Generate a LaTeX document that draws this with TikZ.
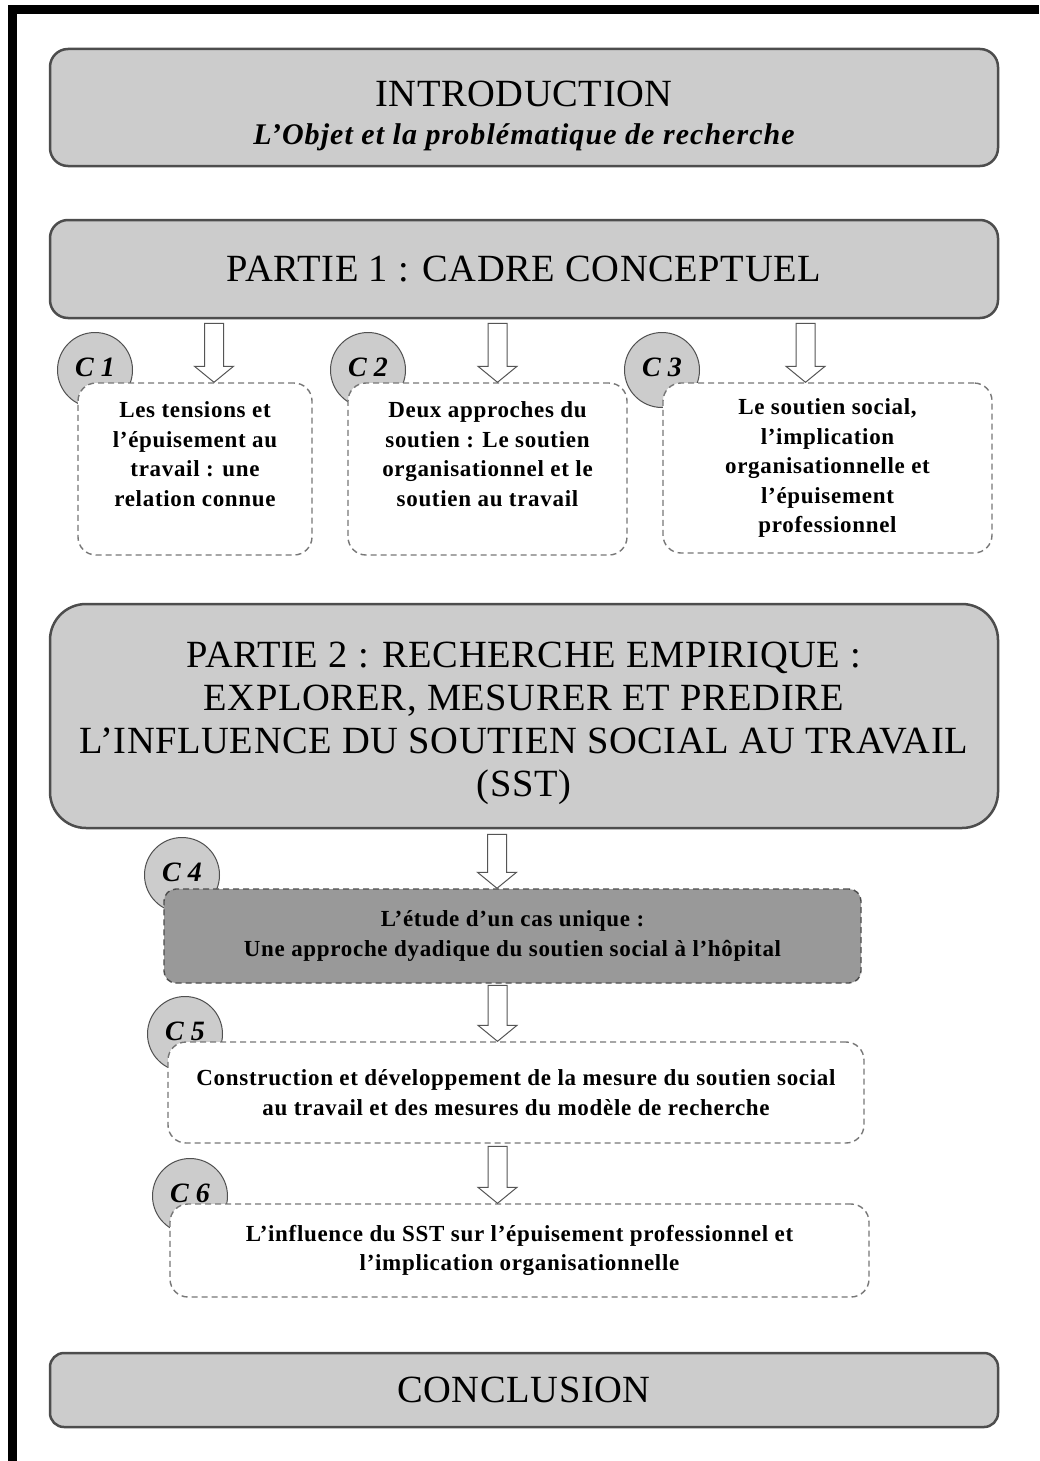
\documentclass[tikz,border=0pt]{standalone}
\usepackage{fontspec}
\setmainfont{Liberation Serif}
\newfontfamily\headfont[LetterSpace=1.5]{Liberation Serif}
\newfontfamily\subfont[LetterSpace=3.5]{Liberation Serif}
\newfontfamily\boxfont[LetterSpace=3]{Liberation Serif}
\usetikzlibrary{calc}
\definecolor{boxfill}{HTML}{CCCCCC}
\definecolor{boxline}{HTML}{4D4D4D}
\definecolor{dashline}{HTML}{777777}
\definecolor{darkfill}{HTML}{999999}
\definecolor{circline}{HTML}{505050}
\definecolor{arrline}{HTML}{555555}
\newcommand{\hollowarrow}[2]{%
  \draw[blockarrow] ($(#1)+(-9.5,-#2)$) -- ($(#1)+(9.5,-#2)$) -- ($(#1)+(9.5,-16)$) -- ($(#1)+(19.5,-16)$) -- (#1) -- ($(#1)+(-19.5,-16)$) -- ($(#1)+(-9.5,-16)$) -- cycle;}
\begin{document}
\begin{tikzpicture}[x=1pt,y=-1pt,
  mainbox/.style={draw=boxline, line width=2.5pt, fill=boxfill, rounded corners=#1, inner sep=0pt, align=center, minimum width=948pt, font=\headfont\fontsize{38.5}{43}\selectfont},
  chapbox/.style={draw=dashline, line width=1.4pt, dash pattern=on 6pt off 4pt, fill=white, rounded corners=18pt, inner sep=0pt, align=center, font=\boxfont\bfseries\fontsize{23}{29.5}\selectfont},
  chapcircle/.style={circle, draw=circline, line width=1pt, fill=boxfill, minimum size=75pt, inner sep=0pt, text height=20pt, text depth=8pt, font=\bfseries\itshape\fontsize{28}{28}\selectfont},
  blockarrow/.style={draw=arrline, line width=1pt, fill=white, line join=miter}
]
\useasboundingbox (0,0) rectangle (1039,1461);
\fill[white] (0,0) rectangle (1039,1461);
\fill[black] (8,5) rectangle (1039,14);
\fill[black] (8,5) rectangle (17,1461);

% main boxes
\node[mainbox=18pt, minimum height=117pt, font=\headfont\fontsize{38.5}{38}\selectfont] (intro) at (524,107.5)
  {\rule{0pt}{41.5pt}INTRODUCTION\\{\subfont\fontsize{30}{38}\selectfont\bfseries\itshape L’Objet et la problématique de recherche}};
\node[mainbox=18pt, minimum height=98pt] (p1) at (524,269) {PARTIE 1 : CADRE CONCEPTUEL};
\node[mainbox=36pt, minimum height=224pt] (p2) at (524,716)
  {\rule{0pt}{40pt}PARTIE 2 : RECHERCHE EMPIRIQUE :\\EXPLORER, MESURER ET PREDIRE\\L’INFLUENCE DU SOUTIEN SOCIAL AU TRAVAIL\\(SST)};
\node[mainbox=14pt, minimum height=74pt] (concl) at (524,1390) {CONCLUSION};

% chapter circles
\node[chapcircle] (k1) at (95,370) {C 1};
\node[chapcircle] (k2) at (368,370) {C 2};
\node[chapcircle] (k3) at (662,370) {C 3};
\node[chapcircle] (k4) at (182,875) {C 4};
\node[chapcircle] (k5) at (185,1034) {C 5};
\node[chapcircle] (k6) at (190,1196) {C 6};

% chapter boxes
\node[chapbox, minimum width=234pt, minimum height=172pt] (c1) at (195,469)
  {Les tensions et\\l’épuisement au\\travail : une\\relation connue\\\mbox{}};
\node[chapbox, minimum width=279pt, minimum height=172pt] (c2) at (487.5,469)
  {Deux approches du\\soutien : Le soutien\\organisationnel et le\\soutien au travail\\\mbox{}};
\node[chapbox, minimum width=329pt, minimum height=170pt] (c3) at (827.5,468)
  {Le soutien social,\\l’implication\\organisationnelle et\\l’épuisement\\professionnel};
\node[chapbox, fill=darkfill, draw=boxline, rounded corners=12pt, minimum width=697pt, minimum height=94pt] (c4) at (512.5,936)
  {L’étude d’un cas unique :\\Une approche dyadique du soutien social à l’hôpital};
\node[chapbox, minimum width=696pt, minimum height=101pt] (c5) at (516,1092.5)
  {Construction et développement de la mesure du soutien social\\au travail et des mesures du modèle de recherche};
\node[chapbox, minimum width=699pt, minimum height=93pt] (c6) at (519.5,1250.5)
  {L’influence du SST sur l’épuisement professionnel et\\l’implication organisationnelle};

% block arrows
\coordinate (t1) at ([xshift=19pt]c1.north);
\coordinate (t2) at ([xshift=10pt]c2.north);
\coordinate (t3) at ([xshift=-22pt]c3.north);
\coordinate (t4) at ([xshift=-15.5pt]c4.north);
\coordinate (t5) at ([xshift=-18.5pt]c5.north);
\coordinate (t6) at ([xshift=-22pt]c6.north);
\hollowarrow{t1}{59}
\hollowarrow{t2}{59}
\hollowarrow{t3}{59}
\hollowarrow{t4}{54}
\hollowarrow{t5}{56}
\hollowarrow{t6}{57}
\end{tikzpicture}
\end{document}
